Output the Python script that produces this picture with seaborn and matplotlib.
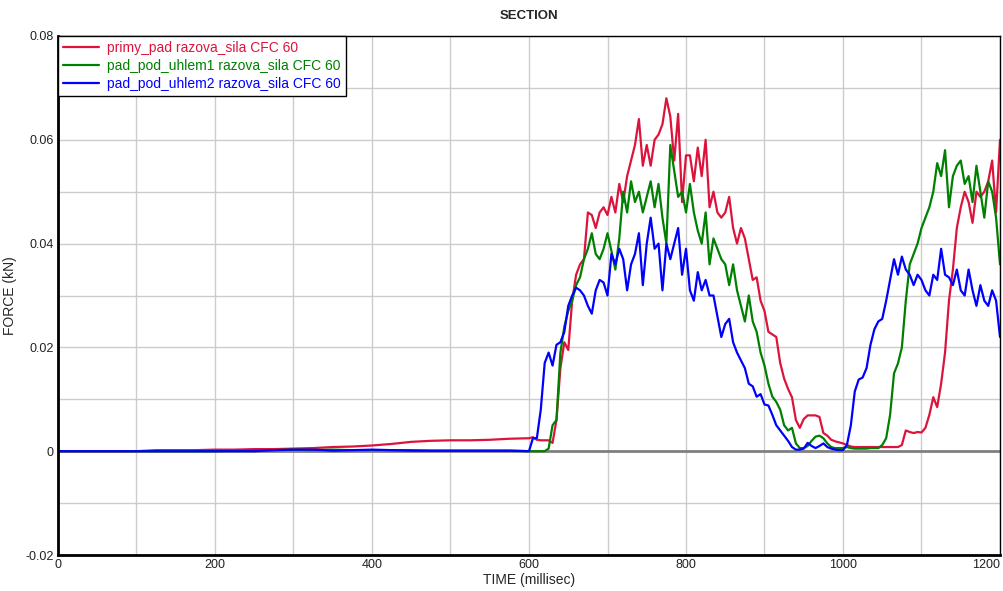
import matplotlib
matplotlib.use("Agg")
import matplotlib.pyplot as plt
from matplotlib.ticker import MultipleLocator, FuncFormatter
import seaborn as sns
import pandas as pd

# time axis (ms): coarse before impact, 5 ms afterwards
time_early = list(range(0, 600, 25))
time_main = list(range(600, 1201, 5))
time_ms = time_early + time_main

series_names = [
    "primy_pad razova_sila CFC 60",
    "pad_pod_uhlem1 razova_sila CFC 60",
    "pad_pod_uhlem2 razova_sila CFC 60",
]
series_colors = ["#dc143c", "#008000", "#0000ff"]

primy_early = [0, 0, 0, 0, 0, 0.0002, 0.0002, 0.0002, 0.0003, 0.0003, 0.0004, 0.0004,
               0.0005, 0.0006, 0.0008, 0.0009, 0.0011, 0.0014, 0.0018, 0.0020, 0.0021,
               0.0021, 0.0022, 0.0024]
primy_main = [
    0.0025, 0.0027, 0.0022, 0.0021, 0.0021, 0.0021, 0.0016, 0.006, 0.016, 0.021,
    0.0195, 0.029, 0.034, 0.036, 0.037, 0.046, 0.0455, 0.043, 0.046, 0.047,
    0.0455, 0.049, 0.046, 0.0515, 0.048, 0.053, 0.056, 0.059, 0.064, 0.055,
    0.059, 0.055, 0.060, 0.061, 0.063, 0.068, 0.0645, 0.056, 0.065, 0.048,
    0.057, 0.057, 0.052, 0.0585, 0.053, 0.060, 0.047, 0.050, 0.046, 0.045,
    0.046, 0.049, 0.043, 0.040, 0.043, 0.041, 0.037, 0.033, 0.0335, 0.029,
    0.027, 0.023, 0.0225, 0.022, 0.017, 0.014, 0.012, 0.0104, 0.006, 0.0045,
    0.0062, 0.0069, 0.0069, 0.0069, 0.0066, 0.0035, 0.003, 0.0022, 0.0019, 0.0017,
    0.0015, 0.0012, 0.0009, 0.0008, 0.0008, 0.0008, 0.0008, 0.0008, 0.0008, 0.0008,
    0.0008, 0.0008, 0.0008, 0.0008, 0.0008, 0.0012, 0.004, 0.0037, 0.0035, 0.0037,
    0.0036, 0.0045, 0.007, 0.0104, 0.0085, 0.013, 0.019, 0.029, 0.035, 0.043,
    0.047, 0.050, 0.048, 0.044, 0.050, 0.049, 0.050, 0.052, 0.056, 0.046,
    0.060,
]

uhel1_early = [0, 0, 0, 0, 0, 0, 0, 0, 0, 0.0001, 0.0002, 0.0002, 0.0003, 0.0002,
               0.0003, 0.0002, 0.0002, 0.0002, 0.0002, 0.0001, 0.0001, 0.0001, 0.0001, 0.0001]
uhel1_main = [
    0, 0, 0, 0, 0, 0.0005, 0.005, 0.006, 0.019, 0.024,
    0.027, 0.029, 0.032, 0.0335, 0.037, 0.039, 0.042, 0.038, 0.037, 0.039,
    0.042, 0.0386, 0.035, 0.041, 0.050, 0.046, 0.052, 0.048, 0.050, 0.046,
    0.049, 0.052, 0.047, 0.0515, 0.045, 0.040, 0.059, 0.054, 0.049, 0.050,
    0.046, 0.0515, 0.046, 0.0425, 0.040, 0.046, 0.036, 0.041, 0.039, 0.037,
    0.036, 0.032, 0.036, 0.031, 0.028, 0.025, 0.030, 0.025, 0.023, 0.019,
    0.0165, 0.013, 0.0105, 0.0095, 0.008, 0.005, 0.004, 0.0045, 0.0015, 0.0006,
    0.0006, 0.001, 0.002, 0.0028, 0.003, 0.0025, 0.0015, 0.0008, 0.0006, 0.0006,
    0.0006, 0.0008, 0.0006, 0.0005, 0.0005, 0.0005, 0.0005, 0.0006, 0.0006, 0.0006,
    0.0012, 0.0025, 0.007, 0.015, 0.0169, 0.020, 0.029, 0.036, 0.038, 0.040,
    0.043, 0.045, 0.047, 0.050, 0.0555, 0.053, 0.058, 0.047, 0.053, 0.055,
    0.056, 0.0515, 0.053, 0.048, 0.055, 0.050, 0.045, 0.052, 0.050, 0.045,
    0.036,
]

uhel2_early = [0, 0, 0, 0, 0, 0, 0, 0, 0, 0, 0, 0.0002, 0.0003, 0.0003,
               0.0001, 0.0002, 0.0003, 0.0002, 0.0001, 0.0001, 0.0001, 0.0001, 0.0001, 0.0001]
uhel2_main = [
    0, 0.0025, 0.0025, 0.008, 0.017, 0.019, 0.0165, 0.0205, 0.021, 0.023,
    0.028, 0.030, 0.0315, 0.031, 0.030, 0.028, 0.0265, 0.031, 0.033, 0.0325,
    0.030, 0.038, 0.036, 0.039, 0.037, 0.031, 0.036, 0.038, 0.042, 0.032,
    0.040, 0.045, 0.039, 0.040, 0.031, 0.040, 0.037, 0.040, 0.043, 0.034,
    0.039, 0.031, 0.029, 0.0345, 0.031, 0.033, 0.030, 0.030, 0.026, 0.022,
    0.0245, 0.0255, 0.021, 0.019, 0.0175, 0.016, 0.013, 0.0125, 0.0105, 0.011,
    0.009, 0.0088, 0.007, 0.005, 0.004, 0.003, 0.002, 0.0008, 0.0003, 0.0003,
    0.0005, 0.0016, 0.001, 0.0006, 0.001, 0.0015, 0.0008, 0.0005, 0.0003, 0.0002,
    0.0002, 0.0012, 0.005, 0.0115, 0.0138, 0.0142, 0.016, 0.0205, 0.0235, 0.025,
    0.0255, 0.029, 0.033, 0.037, 0.034, 0.0375, 0.035, 0.034, 0.032, 0.034,
    0.033, 0.031, 0.030, 0.034, 0.033, 0.039, 0.034, 0.0335, 0.032, 0.035,
    0.031, 0.030, 0.035, 0.031, 0.028, 0.032, 0.029, 0.028, 0.031, 0.029,
    0.022,
]

x_ticks = [0, 200, 400, 600, 800, 1000, 1200]
y_ticks = [-0.02, 0, 0.02, 0.04, 0.06, 0.08]

frames = []
for name, vals in zip(series_names, [primy_early + primy_main,
                                     uhel1_early + uhel1_main,
                                     uhel2_early + uhel2_main]):
    frames.append(pd.DataFrame({"time": time_ms, "force": vals, "series": name}))
df = pd.concat(frames, ignore_index=True)

sns.set_style("white")
plt.rcParams["font.family"] = ["Liberation Sans", "DejaVu Sans"]

fig = plt.figure(figsize=(10.04, 5.91), dpi=100)
ax = fig.add_axes([58 / 1004, 1 - 555 / 591, 942 / 1004, 519 / 591])

ax.axhline(0, color="#808080", lw=2, zorder=1)
sns.lineplot(data=df, x="time", y="force", hue="series", palette=series_colors,
             hue_order=series_names, estimator=None, linewidth=1.6, ax=ax, zorder=2)

ax.set_xlim(0, 1200)
ax.set_ylim(-0.02, 0.08)
ax.xaxis.set_major_locator(plt.FixedLocator(x_ticks))
ax.yaxis.set_major_locator(plt.FixedLocator(y_ticks))
ax.xaxis.set_minor_locator(MultipleLocator(100))
ax.yaxis.set_minor_locator(MultipleLocator(0.01))
ax.yaxis.set_major_formatter(FuncFormatter(lambda v, p: "0" if abs(v) < 1e-9 else f"{v:.2f}"))
ax.grid(True, which="both", color="#cccccc", linewidth=1)
ax.set_axisbelow(True)
ax.tick_params(which="major", direction="in", length=3, width=1, labelsize=9,
               colors="#222222", pad=3)
ax.tick_params(which="minor", length=0)

# last x label sits inside the figure like the original
fig.canvas.draw()
ax.get_xticklabels()[-1].set_horizontalalignment("right")

for side in ["left", "bottom"]:
    ax.spines[side].set_linewidth(2)
for side in ["top", "right"]:
    ax.spines[side].set_linewidth(1)
for s in ax.spines.values():
    s.set_color("black")

ax.set_xlabel("TIME (millisec)", fontsize=10, labelpad=1)
ax.set_ylabel("FORCE (kN)", fontsize=10, labelpad=6)
ax.set_title("SECTION", fontsize=9.5, fontweight="bold", pad=12)

leg = ax.legend(loc="upper left", frameon=True, fancybox=False, edgecolor="black",
                fontsize=10, borderaxespad=0, handlelength=2.6, labelspacing=0.3,
                borderpad=0.35, handletextpad=0.6)
leg.get_frame().set_linewidth(1)
leg.get_frame().set_alpha(1)
for txt, col in zip(leg.get_texts(), series_colors):
    txt.set_color(col)

fig.savefig("out.png", dpi=100)
